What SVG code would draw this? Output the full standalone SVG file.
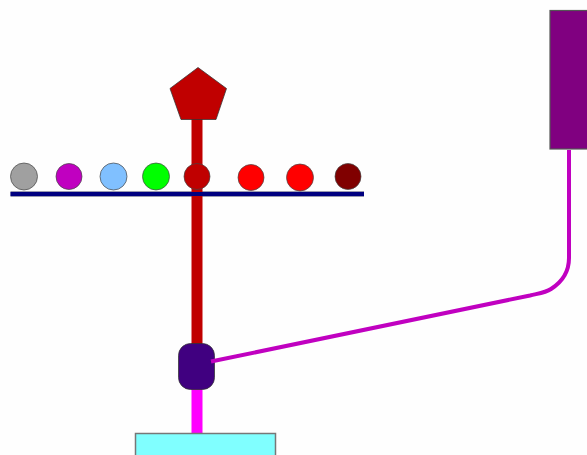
<svg xmlns="http://www.w3.org/2000/svg" width="587" height="455" viewBox="0 0 587 455">
<style>
.n{stroke:#333;stroke-width:1;stroke-opacity:.75}
.b{stroke:#444;stroke-width:1;stroke-opacity:.7}
</style>
<rect width="587" height="455" fill="#fefefe"/>
<g id="connectors" fill="none" stroke-linejoin="round">
<path d="M10.500 194H364" stroke="#9a9ab0" stroke-width="6"/>
<path d="M197 119V345" stroke="#c00000" stroke-width="11"/>
<path d="M197 388V434" stroke="#ff00ff" stroke-width="11"/>
<path d="M10.500 194H364" stroke="#000080" stroke-width="4"/>
</g>
<g id="pentagon"><polygon class="n" points="198,67.500 226.500,88.500 216,119.500 181,119.500 170,88.500" fill="#c00000"/></g>
<g id="dot-gray"><circle class="b" cx="24" cy="176.500" r="13.500" fill="#a0a0a0"/></g>
<g id="dot-purple"><circle class="b" cx="69" cy="176.500" r="13" fill="#c000c0"/></g>
<g id="dot-blue"><circle class="b" cx="113.500" cy="176.500" r="13.500" fill="#80c0ff"/></g>
<g id="dot-green"><circle class="b" cx="156" cy="176.500" r="13.500" fill="#00ff00"/></g>
<g id="dot-darkred"><circle class="b" cx="197" cy="176.500" r="13" fill="#c00000"/></g>
<g id="dot-red1"><circle class="b" cx="251" cy="177.500" r="13" fill="#ff0000"/></g>
<g id="dot-red2"><circle class="b" cx="300" cy="177.500" r="13.500" fill="#ff0000"/></g>
<g id="dot-maroon"><circle class="b" cx="348" cy="176.500" r="13" fill="#800000"/></g>
<g id="junction"><rect class="n" x="178.500" y="343.500" width="36" height="46" rx="12" ry="12" fill="#400080"/></g>
<g id="base"><rect x="135.500" y="433.500" width="140" height="30" fill="#80ffff" stroke="#777" stroke-width="1.500"/></g>
<g id="box"><rect x="550" y="10.500" width="50" height="138.500" fill="#800080" stroke="#555" stroke-width="1.200"/></g>
<g id="link"><path d="M211 361.500L530 295.500C538 293.500 545 293 551 289C562 282 569 272 569 258V150" fill="none" stroke="#c000c0" stroke-width="4"/></g>
</svg>
